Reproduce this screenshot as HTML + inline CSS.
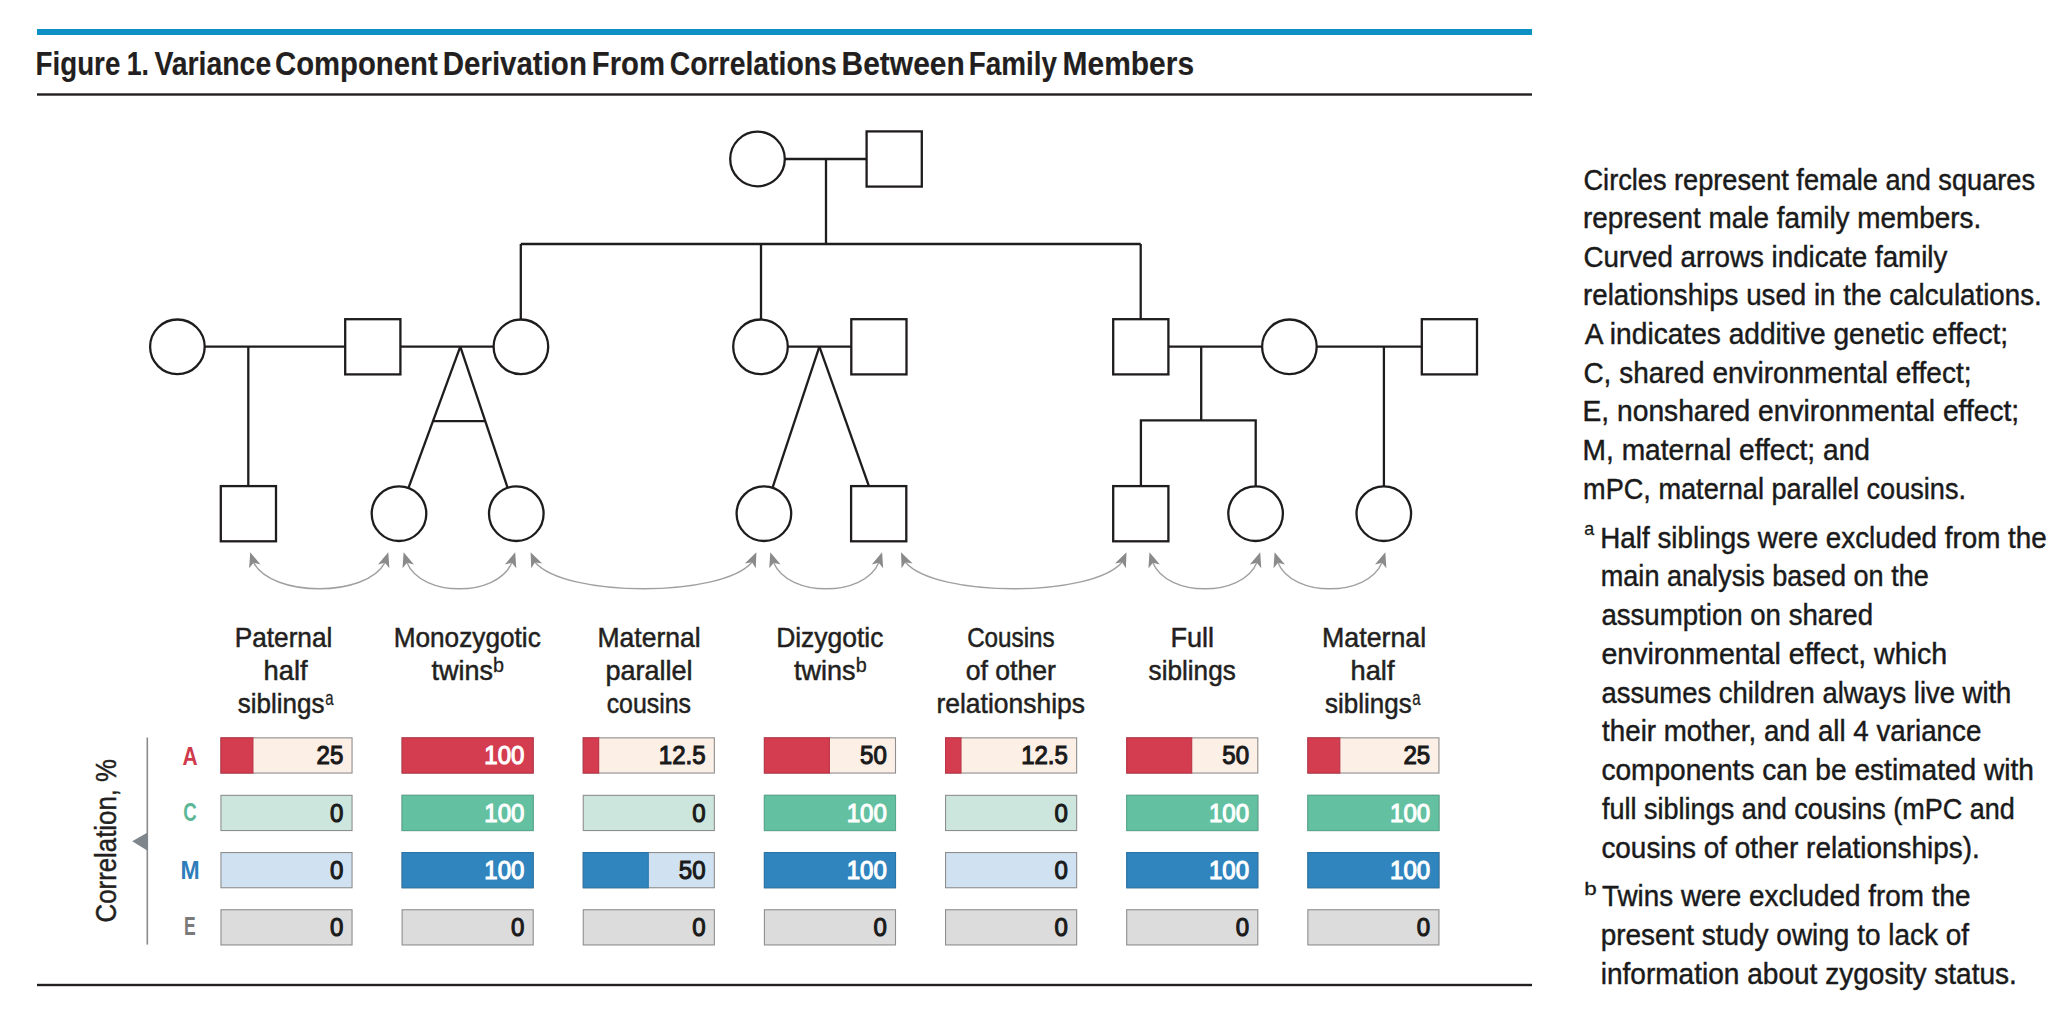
<!DOCTYPE html><html><head><meta charset="utf-8"><style>html,body{margin:0;padding:0;background:#fff;}svg{display:block;}text{font-family:"Liberation Sans",sans-serif;white-space:pre;}</style></head><body>
<svg width="2048" height="1028" viewBox="0 0 2048 1028">
<rect x="37" y="29" width="1495" height="6" fill="#0d90c3"/>
<rect x="37" y="93.3" width="1495" height="2.4" fill="#231f20"/>
<rect x="37" y="983.8" width="1495" height="2.4" fill="#231f20"/>
<text x="35.57" y="74.80" font-size="33.4" font-weight="bold" fill="#231f20" stroke="#231f20" stroke-width="0.15" textLength="84.74" lengthAdjust="spacingAndGlyphs">Figure</text>
<text x="126.67" y="74.80" font-size="33.4" font-weight="bold" fill="#231f20" stroke="#231f20" stroke-width="0.15" textLength="22.30" lengthAdjust="spacingAndGlyphs">1.</text>
<text x="154.43" y="74.80" font-size="33.4" font-weight="bold" fill="#231f20" stroke="#231f20" stroke-width="0.15" textLength="116.77" lengthAdjust="spacingAndGlyphs">Variance</text>
<text x="275.00" y="74.80" font-size="33.4" font-weight="bold" fill="#231f20" stroke="#231f20" stroke-width="0.15" textLength="162.66" lengthAdjust="spacingAndGlyphs">Component</text>
<text x="442.76" y="74.80" font-size="33.4" font-weight="bold" fill="#231f20" stroke="#231f20" stroke-width="0.15" textLength="144.14" lengthAdjust="spacingAndGlyphs">Derivation</text>
<text x="591.77" y="74.80" font-size="33.4" font-weight="bold" fill="#231f20" stroke="#231f20" stroke-width="0.15" textLength="73.21" lengthAdjust="spacingAndGlyphs">From</text>
<text x="669.74" y="74.80" font-size="33.4" font-weight="bold" fill="#231f20" stroke="#231f20" stroke-width="0.15" textLength="167.13" lengthAdjust="spacingAndGlyphs">Correlations</text>
<text x="841.53" y="74.80" font-size="33.4" font-weight="bold" fill="#231f20" stroke="#231f20" stroke-width="0.15" textLength="123.27" lengthAdjust="spacingAndGlyphs">Between</text>
<text x="968.77" y="74.80" font-size="33.4" font-weight="bold" fill="#231f20" stroke="#231f20" stroke-width="0.15" textLength="88.18" lengthAdjust="spacingAndGlyphs">Family</text>
<text x="1062.53" y="74.80" font-size="33.4" font-weight="bold" fill="#231f20" stroke="#231f20" stroke-width="0.15" textLength="131.62" lengthAdjust="spacingAndGlyphs">Members</text>
<g stroke="#1f1c1d" stroke-width="2.3" fill="none" stroke-linecap="butt"><line x1="757.5" y1="159" x2="894.2" y2="159"/><line x1="826" y1="159" x2="826" y2="244"/><line x1="520.8" y1="244" x2="1140.7" y2="244"/><line x1="520.8" y1="244" x2="520.8" y2="346.8"/><line x1="761" y1="244" x2="761" y2="346.8"/><line x1="1140.7" y1="244" x2="1140.7" y2="346.8"/><line x1="177.4" y1="346.6" x2="372.8" y2="346.6"/><line x1="248.3" y1="346.6" x2="248.3" y2="513.7"/><line x1="372.8" y1="346.6" x2="520.9" y2="346.6"/><line x1="460.3" y1="346.6" x2="399" y2="513.7"/><line x1="460.3" y1="346.6" x2="516.3" y2="513.7"/><line x1="433.2" y1="421.1" x2="485.6" y2="421.1"/><line x1="760.5" y1="346.6" x2="878.9" y2="346.6"/><line x1="819.4" y1="346.6" x2="763.9" y2="513.7"/><line x1="819.4" y1="346.6" x2="878.7" y2="513.7"/><line x1="1140.8" y1="346.6" x2="1289.4" y2="346.6"/><line x1="1201.2" y1="346.6" x2="1201.2" y2="420.3"/><path d="M1140.9,513.7V420.3H1255.7V513.7" stroke-linejoin="miter"/><line x1="1289.4" y1="346.6" x2="1449.4" y2="346.6"/><line x1="1383.9" y1="346.6" x2="1383.9" y2="513.7"/></g>
<g stroke="#1f1c1d" stroke-width="2.3" fill="#fff"><circle cx="757.5" cy="159" r="27.3"/><rect x="866.60" y="131.40" width="55.2" height="55.2"/><circle cx="177.4" cy="346.8" r="27.3"/><rect x="345.20" y="319.20" width="55.2" height="55.2"/><circle cx="520.9" cy="346.8" r="27.3"/><circle cx="760.5" cy="346.8" r="27.3"/><rect x="851.30" y="319.20" width="55.2" height="55.2"/><rect x="1113.20" y="319.20" width="55.2" height="55.2"/><circle cx="1289.4" cy="346.8" r="27.3"/><rect x="1421.80" y="319.20" width="55.2" height="55.2"/><rect x="220.80" y="486.10" width="55.2" height="55.2"/><circle cx="399" cy="513.7" r="27.3"/><circle cx="516.3" cy="513.7" r="27.3"/><circle cx="763.9" cy="513.7" r="27.3"/><rect x="851.10" y="486.10" width="55.2" height="55.2"/><rect x="1113.20" y="486.10" width="55.2" height="55.2"/><circle cx="1255.6" cy="513.7" r="27.3"/><circle cx="1383.8" cy="513.7" r="27.3"/></g>
<g fill="none" stroke="#a0a0a0" stroke-width="1.4"><path d="M253.60,562.66C271.98,597.51 366.52,597.51 384.90,562.66"/><path d="M407.00,562.66C421.67,597.51 497.13,597.51 511.80,562.66"/><path d="M535.07,562.25C565.43,597.65 721.57,597.65 751.93,562.25"/><path d="M773.70,562.66C788.40,597.51 864.00,597.51 878.70,562.66"/><path d="M905.47,562.25C935.79,597.65 1091.71,597.65 1122.03,562.25"/><path d="M1152.90,562.66C1167.45,597.51 1242.25,597.51 1256.80,562.66"/><path d="M1278.00,562.66C1292.55,597.51 1367.35,597.51 1381.90,562.66"/></g>
<g fill="#8a8a8a" stroke="none"><path d="M250.20,552.20L249.13,568.32L253.60,562.66L260.54,564.61Z"/><path d="M388.30,552.20L377.96,564.61L384.90,562.66L389.37,568.32Z"/><path d="M403.60,552.20L402.53,568.32L407.00,562.66L413.94,564.61Z"/><path d="M515.20,552.20L504.86,564.61L511.80,562.66L516.27,568.32Z"/><path d="M530.60,552.20L531.22,568.34L535.07,562.25L542.18,563.46Z"/><path d="M756.40,552.20L744.82,563.46L751.93,562.25L755.78,568.34Z"/><path d="M770.30,552.20L769.23,568.32L773.70,562.66L780.64,564.61Z"/><path d="M882.10,552.20L871.76,564.61L878.70,562.66L883.17,568.32Z"/><path d="M901.00,552.20L901.62,568.34L905.47,562.25L912.58,563.46Z"/><path d="M1126.50,552.20L1114.92,563.46L1122.03,562.25L1125.88,568.34Z"/><path d="M1149.50,552.20L1148.43,568.32L1152.90,562.66L1159.84,564.61Z"/><path d="M1260.20,552.20L1249.86,564.61L1256.80,562.66L1261.27,568.32Z"/><path d="M1274.60,552.20L1273.53,568.32L1278.00,562.66L1284.94,564.61Z"/><path d="M1385.30,552.20L1374.96,564.61L1381.90,562.66L1386.37,568.32Z"/></g>
<text x="234.75" y="646.60" font-size="27.6" font-weight="normal" fill="#231f20" stroke="#231f20" stroke-width="0.5" textLength="97.59" lengthAdjust="spacingAndGlyphs">Paternal</text>
<text x="263.53" y="679.70" font-size="27.6" font-weight="normal" fill="#231f20" stroke="#231f20" stroke-width="0.5" textLength="44.14" lengthAdjust="spacingAndGlyphs">half</text>
<text x="237.77" y="712.80" font-size="27.6" font-weight="normal" fill="#231f20" stroke="#231f20" stroke-width="0.5" textLength="86.69" lengthAdjust="spacingAndGlyphs">siblings</text>
<text x="325.15" y="704.90" font-size="21" font-weight="normal" fill="#231f20" stroke="#231f20" stroke-width="0.3" textLength="8.32" lengthAdjust="spacingAndGlyphs">a</text>
<text x="393.65" y="646.60" font-size="27.6" font-weight="normal" fill="#231f20" stroke="#231f20" stroke-width="0.5" textLength="147.12" lengthAdjust="spacingAndGlyphs">Monozygotic</text>
<text x="431.55" y="679.70" font-size="27.6" font-weight="normal" fill="#231f20" stroke="#231f20" stroke-width="0.5" textLength="61.40" lengthAdjust="spacingAndGlyphs">twins</text>
<text x="492.96" y="671.80" font-size="21" font-weight="normal" fill="#231f20" stroke="#231f20" stroke-width="0.3" textLength="11.00" lengthAdjust="spacingAndGlyphs">b</text>
<text x="597.53" y="646.60" font-size="27.6" font-weight="normal" fill="#231f20" stroke="#231f20" stroke-width="0.5" textLength="103.17" lengthAdjust="spacingAndGlyphs">Maternal</text>
<text x="605.39" y="679.70" font-size="27.6" font-weight="normal" fill="#231f20" stroke="#231f20" stroke-width="0.5" textLength="87.13" lengthAdjust="spacingAndGlyphs">parallel</text>
<text x="606.65" y="712.80" font-size="27.6" font-weight="normal" fill="#231f20" stroke="#231f20" stroke-width="0.5" textLength="84.38" lengthAdjust="spacingAndGlyphs">cousins</text>
<text x="776.13" y="646.60" font-size="27.6" font-weight="normal" fill="#231f20" stroke="#231f20" stroke-width="0.5" textLength="107.32" lengthAdjust="spacingAndGlyphs">Dizygotic</text>
<text x="794.04" y="679.70" font-size="27.6" font-weight="normal" fill="#231f20" stroke="#231f20" stroke-width="0.5" textLength="61.61" lengthAdjust="spacingAndGlyphs">twins</text>
<text x="855.66" y="671.80" font-size="21" font-weight="normal" fill="#231f20" stroke="#231f20" stroke-width="0.3" textLength="11.00" lengthAdjust="spacingAndGlyphs">b</text>
<text x="967.14" y="646.60" font-size="27.6" font-weight="normal" fill="#231f20" stroke="#231f20" stroke-width="0.5" textLength="87.51" lengthAdjust="spacingAndGlyphs">Cousins</text>
<text x="965.68" y="679.70" font-size="27.6" font-weight="normal" fill="#231f20" stroke="#231f20" stroke-width="0.5" textLength="90.30" lengthAdjust="spacingAndGlyphs">of other</text>
<text x="936.43" y="712.80" font-size="27.6" font-weight="normal" fill="#231f20" stroke="#231f20" stroke-width="0.5" textLength="148.63" lengthAdjust="spacingAndGlyphs">relationships</text>
<text x="1170.38" y="646.60" font-size="27.6" font-weight="normal" fill="#231f20" stroke="#231f20" stroke-width="0.5" textLength="43.67" lengthAdjust="spacingAndGlyphs">Full</text>
<text x="1148.57" y="679.70" font-size="27.6" font-weight="normal" fill="#231f20" stroke="#231f20" stroke-width="0.5" textLength="87.20" lengthAdjust="spacingAndGlyphs">siblings</text>
<text x="1322.01" y="646.60" font-size="27.6" font-weight="normal" fill="#231f20" stroke="#231f20" stroke-width="0.5" textLength="104.20" lengthAdjust="spacingAndGlyphs">Maternal</text>
<text x="1350.44" y="679.70" font-size="27.6" font-weight="normal" fill="#231f20" stroke="#231f20" stroke-width="0.5" textLength="44.04" lengthAdjust="spacingAndGlyphs">half</text>
<text x="1325.07" y="712.80" font-size="27.6" font-weight="normal" fill="#231f20" stroke="#231f20" stroke-width="0.5" textLength="86.59" lengthAdjust="spacingAndGlyphs">siblings</text>
<text x="1412.35" y="704.90" font-size="21" font-weight="normal" fill="#231f20" stroke="#231f20" stroke-width="0.3" textLength="8.32" lengthAdjust="spacingAndGlyphs">a</text>
<rect x="220.95" y="737.85" width="131.10" height="35.20" fill="#fcefe6" stroke="#8e8e8e" stroke-width="1.1"/>
<rect x="220.95" y="737.85" width="31.95" height="35.20" fill="#d43d50" stroke="#d43d50" stroke-width="1.1"/>
<rect x="220.95" y="737.85" width="31.95" height="35.20" fill="none" stroke="#000" stroke-opacity="0.12" stroke-width="1.1"/>
<text x="343.30" y="764.40" font-size="26.7" font-weight="normal" fill="#1a1a1a" stroke="#1a1a1a" stroke-width="1.15" text-anchor="end" transform="translate(343.30,0) scale(0.9,1) translate(-343.30,0)">25</text>
<rect x="402.10" y="737.85" width="131.10" height="35.20" fill="#fcefe6" stroke="#8e8e8e" stroke-width="1.1"/>
<rect x="402.10" y="737.85" width="131.10" height="35.20" fill="#d43d50" stroke="#d43d50" stroke-width="1.1"/>
<rect x="402.10" y="737.85" width="131.10" height="35.20" fill="none" stroke="#000" stroke-opacity="0.12" stroke-width="1.1"/>
<text x="524.45" y="764.40" font-size="26.7" font-weight="normal" fill="#ffffff" stroke="#ffffff" stroke-width="1.15" text-anchor="end" transform="translate(524.45,0) scale(0.9,1) translate(-524.45,0)">100</text>
<rect x="583.25" y="737.85" width="131.10" height="35.20" fill="#fcefe6" stroke="#8e8e8e" stroke-width="1.1"/>
<rect x="583.25" y="737.85" width="15.42" height="35.20" fill="#d43d50" stroke="#d43d50" stroke-width="1.1"/>
<rect x="583.25" y="737.85" width="15.42" height="35.20" fill="none" stroke="#000" stroke-opacity="0.12" stroke-width="1.1"/>
<text x="705.60" y="764.40" font-size="26.7" font-weight="normal" fill="#1a1a1a" stroke="#1a1a1a" stroke-width="1.15" text-anchor="end" transform="translate(705.60,0) scale(0.9,1) translate(-705.60,0)">12.5</text>
<rect x="764.40" y="737.85" width="131.10" height="35.20" fill="#fcefe6" stroke="#8e8e8e" stroke-width="1.1"/>
<rect x="764.40" y="737.85" width="65.00" height="35.20" fill="#d43d50" stroke="#d43d50" stroke-width="1.1"/>
<rect x="764.40" y="737.85" width="65.00" height="35.20" fill="none" stroke="#000" stroke-opacity="0.12" stroke-width="1.1"/>
<text x="886.75" y="764.40" font-size="26.7" font-weight="normal" fill="#1a1a1a" stroke="#1a1a1a" stroke-width="1.15" text-anchor="end" transform="translate(886.75,0) scale(0.9,1) translate(-886.75,0)">50</text>
<rect x="945.55" y="737.85" width="131.10" height="35.20" fill="#fcefe6" stroke="#8e8e8e" stroke-width="1.1"/>
<rect x="945.55" y="737.85" width="15.42" height="35.20" fill="#d43d50" stroke="#d43d50" stroke-width="1.1"/>
<rect x="945.55" y="737.85" width="15.42" height="35.20" fill="none" stroke="#000" stroke-opacity="0.12" stroke-width="1.1"/>
<text x="1067.90" y="764.40" font-size="26.7" font-weight="normal" fill="#1a1a1a" stroke="#1a1a1a" stroke-width="1.15" text-anchor="end" transform="translate(1067.90,0) scale(0.9,1) translate(-1067.90,0)">12.5</text>
<rect x="1126.70" y="737.85" width="131.10" height="35.20" fill="#fcefe6" stroke="#8e8e8e" stroke-width="1.1"/>
<rect x="1126.70" y="737.85" width="65.00" height="35.20" fill="#d43d50" stroke="#d43d50" stroke-width="1.1"/>
<rect x="1126.70" y="737.85" width="65.00" height="35.20" fill="none" stroke="#000" stroke-opacity="0.12" stroke-width="1.1"/>
<text x="1249.05" y="764.40" font-size="26.7" font-weight="normal" fill="#1a1a1a" stroke="#1a1a1a" stroke-width="1.15" text-anchor="end" transform="translate(1249.05,0) scale(0.9,1) translate(-1249.05,0)">50</text>
<rect x="1307.85" y="737.85" width="131.10" height="35.20" fill="#fcefe6" stroke="#8e8e8e" stroke-width="1.1"/>
<rect x="1307.85" y="737.85" width="31.95" height="35.20" fill="#d43d50" stroke="#d43d50" stroke-width="1.1"/>
<rect x="1307.85" y="737.85" width="31.95" height="35.20" fill="none" stroke="#000" stroke-opacity="0.12" stroke-width="1.1"/>
<text x="1430.20" y="764.40" font-size="26.7" font-weight="normal" fill="#1a1a1a" stroke="#1a1a1a" stroke-width="1.15" text-anchor="end" transform="translate(1430.20,0) scale(0.9,1) translate(-1430.20,0)">25</text>
<text x="182.58" y="765.00" font-size="26.4" font-weight="bold" fill="#cf3a4c" textLength="15.09" lengthAdjust="spacingAndGlyphs">A</text>
<rect x="220.95" y="795.35" width="131.10" height="35.20" fill="#cde6dd" stroke="#8e8e8e" stroke-width="1.1"/>
<text x="343.30" y="821.90" font-size="26.7" font-weight="normal" fill="#1a1a1a" stroke="#1a1a1a" stroke-width="1.15" text-anchor="end" transform="translate(343.30,0) scale(0.9,1) translate(-343.30,0)">0</text>
<rect x="402.10" y="795.35" width="131.10" height="35.20" fill="#cde6dd" stroke="#8e8e8e" stroke-width="1.1"/>
<rect x="402.10" y="795.35" width="131.10" height="35.20" fill="#63c1a2" stroke="#63c1a2" stroke-width="1.1"/>
<rect x="402.10" y="795.35" width="131.10" height="35.20" fill="none" stroke="#000" stroke-opacity="0.12" stroke-width="1.1"/>
<text x="524.45" y="821.90" font-size="26.7" font-weight="normal" fill="#ffffff" stroke="#ffffff" stroke-width="1.15" text-anchor="end" transform="translate(524.45,0) scale(0.9,1) translate(-524.45,0)">100</text>
<rect x="583.25" y="795.35" width="131.10" height="35.20" fill="#cde6dd" stroke="#8e8e8e" stroke-width="1.1"/>
<text x="705.60" y="821.90" font-size="26.7" font-weight="normal" fill="#1a1a1a" stroke="#1a1a1a" stroke-width="1.15" text-anchor="end" transform="translate(705.60,0) scale(0.9,1) translate(-705.60,0)">0</text>
<rect x="764.40" y="795.35" width="131.10" height="35.20" fill="#cde6dd" stroke="#8e8e8e" stroke-width="1.1"/>
<rect x="764.40" y="795.35" width="131.10" height="35.20" fill="#63c1a2" stroke="#63c1a2" stroke-width="1.1"/>
<rect x="764.40" y="795.35" width="131.10" height="35.20" fill="none" stroke="#000" stroke-opacity="0.12" stroke-width="1.1"/>
<text x="886.75" y="821.90" font-size="26.7" font-weight="normal" fill="#ffffff" stroke="#ffffff" stroke-width="1.15" text-anchor="end" transform="translate(886.75,0) scale(0.9,1) translate(-886.75,0)">100</text>
<rect x="945.55" y="795.35" width="131.10" height="35.20" fill="#cde6dd" stroke="#8e8e8e" stroke-width="1.1"/>
<text x="1067.90" y="821.90" font-size="26.7" font-weight="normal" fill="#1a1a1a" stroke="#1a1a1a" stroke-width="1.15" text-anchor="end" transform="translate(1067.90,0) scale(0.9,1) translate(-1067.90,0)">0</text>
<rect x="1126.70" y="795.35" width="131.10" height="35.20" fill="#cde6dd" stroke="#8e8e8e" stroke-width="1.1"/>
<rect x="1126.70" y="795.35" width="131.10" height="35.20" fill="#63c1a2" stroke="#63c1a2" stroke-width="1.1"/>
<rect x="1126.70" y="795.35" width="131.10" height="35.20" fill="none" stroke="#000" stroke-opacity="0.12" stroke-width="1.1"/>
<text x="1249.05" y="821.90" font-size="26.7" font-weight="normal" fill="#ffffff" stroke="#ffffff" stroke-width="1.15" text-anchor="end" transform="translate(1249.05,0) scale(0.9,1) translate(-1249.05,0)">100</text>
<rect x="1307.85" y="795.35" width="131.10" height="35.20" fill="#cde6dd" stroke="#8e8e8e" stroke-width="1.1"/>
<rect x="1307.85" y="795.35" width="131.10" height="35.20" fill="#63c1a2" stroke="#63c1a2" stroke-width="1.1"/>
<rect x="1307.85" y="795.35" width="131.10" height="35.20" fill="none" stroke="#000" stroke-opacity="0.12" stroke-width="1.1"/>
<text x="1430.20" y="821.90" font-size="26.7" font-weight="normal" fill="#ffffff" stroke="#ffffff" stroke-width="1.15" text-anchor="end" transform="translate(1430.20,0) scale(0.9,1) translate(-1430.20,0)">100</text>
<text x="183.35" y="821.10" font-size="26.4" font-weight="bold" fill="#5cb797" textLength="13.45" lengthAdjust="spacingAndGlyphs">C</text>
<rect x="220.95" y="852.55" width="131.10" height="35.20" fill="#d0e2f2" stroke="#8e8e8e" stroke-width="1.1"/>
<text x="343.30" y="879.10" font-size="26.7" font-weight="normal" fill="#1a1a1a" stroke="#1a1a1a" stroke-width="1.15" text-anchor="end" transform="translate(343.30,0) scale(0.9,1) translate(-343.30,0)">0</text>
<rect x="402.10" y="852.55" width="131.10" height="35.20" fill="#d0e2f2" stroke="#8e8e8e" stroke-width="1.1"/>
<rect x="402.10" y="852.55" width="131.10" height="35.20" fill="#3185bf" stroke="#3185bf" stroke-width="1.1"/>
<rect x="402.10" y="852.55" width="131.10" height="35.20" fill="none" stroke="#000" stroke-opacity="0.12" stroke-width="1.1"/>
<text x="524.45" y="879.10" font-size="26.7" font-weight="normal" fill="#ffffff" stroke="#ffffff" stroke-width="1.15" text-anchor="end" transform="translate(524.45,0) scale(0.9,1) translate(-524.45,0)">100</text>
<rect x="583.25" y="852.55" width="131.10" height="35.20" fill="#d0e2f2" stroke="#8e8e8e" stroke-width="1.1"/>
<rect x="583.25" y="852.55" width="65.00" height="35.20" fill="#3185bf" stroke="#3185bf" stroke-width="1.1"/>
<rect x="583.25" y="852.55" width="65.00" height="35.20" fill="none" stroke="#000" stroke-opacity="0.12" stroke-width="1.1"/>
<text x="705.60" y="879.10" font-size="26.7" font-weight="normal" fill="#1a1a1a" stroke="#1a1a1a" stroke-width="1.15" text-anchor="end" transform="translate(705.60,0) scale(0.9,1) translate(-705.60,0)">50</text>
<rect x="764.40" y="852.55" width="131.10" height="35.20" fill="#d0e2f2" stroke="#8e8e8e" stroke-width="1.1"/>
<rect x="764.40" y="852.55" width="131.10" height="35.20" fill="#3185bf" stroke="#3185bf" stroke-width="1.1"/>
<rect x="764.40" y="852.55" width="131.10" height="35.20" fill="none" stroke="#000" stroke-opacity="0.12" stroke-width="1.1"/>
<text x="886.75" y="879.10" font-size="26.7" font-weight="normal" fill="#ffffff" stroke="#ffffff" stroke-width="1.15" text-anchor="end" transform="translate(886.75,0) scale(0.9,1) translate(-886.75,0)">100</text>
<rect x="945.55" y="852.55" width="131.10" height="35.20" fill="#d0e2f2" stroke="#8e8e8e" stroke-width="1.1"/>
<text x="1067.90" y="879.10" font-size="26.7" font-weight="normal" fill="#1a1a1a" stroke="#1a1a1a" stroke-width="1.15" text-anchor="end" transform="translate(1067.90,0) scale(0.9,1) translate(-1067.90,0)">0</text>
<rect x="1126.70" y="852.55" width="131.10" height="35.20" fill="#d0e2f2" stroke="#8e8e8e" stroke-width="1.1"/>
<rect x="1126.70" y="852.55" width="131.10" height="35.20" fill="#3185bf" stroke="#3185bf" stroke-width="1.1"/>
<rect x="1126.70" y="852.55" width="131.10" height="35.20" fill="none" stroke="#000" stroke-opacity="0.12" stroke-width="1.1"/>
<text x="1249.05" y="879.10" font-size="26.7" font-weight="normal" fill="#ffffff" stroke="#ffffff" stroke-width="1.15" text-anchor="end" transform="translate(1249.05,0) scale(0.9,1) translate(-1249.05,0)">100</text>
<rect x="1307.85" y="852.55" width="131.10" height="35.20" fill="#d0e2f2" stroke="#8e8e8e" stroke-width="1.1"/>
<rect x="1307.85" y="852.55" width="131.10" height="35.20" fill="#3185bf" stroke="#3185bf" stroke-width="1.1"/>
<rect x="1307.85" y="852.55" width="131.10" height="35.20" fill="none" stroke="#000" stroke-opacity="0.12" stroke-width="1.1"/>
<text x="1430.20" y="879.10" font-size="26.7" font-weight="normal" fill="#ffffff" stroke="#ffffff" stroke-width="1.15" text-anchor="end" transform="translate(1430.20,0) scale(0.9,1) translate(-1430.20,0)">100</text>
<text x="180.50" y="879.20" font-size="26.4" font-weight="bold" fill="#2e7dbb" textLength="19.16" lengthAdjust="spacingAndGlyphs">M</text>
<rect x="220.95" y="909.75" width="131.10" height="35.20" fill="#dcdcdd" stroke="#8e8e8e" stroke-width="1.1"/>
<text x="343.30" y="936.30" font-size="26.7" font-weight="normal" fill="#1a1a1a" stroke="#1a1a1a" stroke-width="1.15" text-anchor="end" transform="translate(343.30,0) scale(0.9,1) translate(-343.30,0)">0</text>
<rect x="402.10" y="909.75" width="131.10" height="35.20" fill="#dcdcdd" stroke="#8e8e8e" stroke-width="1.1"/>
<text x="524.45" y="936.30" font-size="26.7" font-weight="normal" fill="#1a1a1a" stroke="#1a1a1a" stroke-width="1.15" text-anchor="end" transform="translate(524.45,0) scale(0.9,1) translate(-524.45,0)">0</text>
<rect x="583.25" y="909.75" width="131.10" height="35.20" fill="#dcdcdd" stroke="#8e8e8e" stroke-width="1.1"/>
<text x="705.60" y="936.30" font-size="26.7" font-weight="normal" fill="#1a1a1a" stroke="#1a1a1a" stroke-width="1.15" text-anchor="end" transform="translate(705.60,0) scale(0.9,1) translate(-705.60,0)">0</text>
<rect x="764.40" y="909.75" width="131.10" height="35.20" fill="#dcdcdd" stroke="#8e8e8e" stroke-width="1.1"/>
<text x="886.75" y="936.30" font-size="26.7" font-weight="normal" fill="#1a1a1a" stroke="#1a1a1a" stroke-width="1.15" text-anchor="end" transform="translate(886.75,0) scale(0.9,1) translate(-886.75,0)">0</text>
<rect x="945.55" y="909.75" width="131.10" height="35.20" fill="#dcdcdd" stroke="#8e8e8e" stroke-width="1.1"/>
<text x="1067.90" y="936.30" font-size="26.7" font-weight="normal" fill="#1a1a1a" stroke="#1a1a1a" stroke-width="1.15" text-anchor="end" transform="translate(1067.90,0) scale(0.9,1) translate(-1067.90,0)">0</text>
<rect x="1126.70" y="909.75" width="131.10" height="35.20" fill="#dcdcdd" stroke="#8e8e8e" stroke-width="1.1"/>
<text x="1249.05" y="936.30" font-size="26.7" font-weight="normal" fill="#1a1a1a" stroke="#1a1a1a" stroke-width="1.15" text-anchor="end" transform="translate(1249.05,0) scale(0.9,1) translate(-1249.05,0)">0</text>
<rect x="1307.85" y="909.75" width="131.10" height="35.20" fill="#dcdcdd" stroke="#8e8e8e" stroke-width="1.1"/>
<text x="1430.20" y="936.30" font-size="26.7" font-weight="normal" fill="#1a1a1a" stroke="#1a1a1a" stroke-width="1.15" text-anchor="end" transform="translate(1430.20,0) scale(0.9,1) translate(-1430.20,0)">0</text>
<text x="183.96" y="935.40" font-size="26.4" font-weight="bold" fill="#7a7a7a" textLength="11.69" lengthAdjust="spacingAndGlyphs">E</text>
<line x1="147.3" y1="737.5" x2="147.3" y2="944.6" stroke="#8a8a8a" stroke-width="1.6"/>
<path d="M132.2,841.2L148,832.2L148,851Z" fill="#7f868c"/>
<text x="0" y="0" font-size="30" fill="#231f20" stroke="#231f20" stroke-width="0.45" text-anchor="middle" transform="translate(116.3,840.7) rotate(-90) scale(0.86,1)">Correlation, %</text>
<text x="1583.47" y="189.50" font-size="29.4" font-weight="normal" fill="#1a1a1a" stroke="#1a1a1a" stroke-width="0.45" textLength="451.55" lengthAdjust="spacingAndGlyphs">Circles represent female and squares</text>
<text x="1583.01" y="228.14" font-size="29.4" font-weight="normal" fill="#1a1a1a" stroke="#1a1a1a" stroke-width="0.45" textLength="398.25" lengthAdjust="spacingAndGlyphs">represent male family members.</text>
<text x="1583.44" y="266.78" font-size="29.4" font-weight="normal" fill="#1a1a1a" stroke="#1a1a1a" stroke-width="0.45" textLength="363.97" lengthAdjust="spacingAndGlyphs">Curved arrows indicate family</text>
<text x="1583.03" y="305.42" font-size="29.4" font-weight="normal" fill="#1a1a1a" stroke="#1a1a1a" stroke-width="0.45" textLength="458.66" lengthAdjust="spacingAndGlyphs">relationships used in the calculations.</text>
<text x="1584.82" y="344.06" font-size="29.4" font-weight="normal" fill="#1a1a1a" stroke="#1a1a1a" stroke-width="0.45" textLength="423.30" lengthAdjust="spacingAndGlyphs">A indicates additive genetic effect;</text>
<text x="1583.43" y="382.70" font-size="29.4" font-weight="normal" fill="#1a1a1a" stroke="#1a1a1a" stroke-width="0.45" textLength="388.01" lengthAdjust="spacingAndGlyphs">C, shared environmental effect;</text>
<text x="1582.57" y="421.34" font-size="29.4" font-weight="normal" fill="#1a1a1a" stroke="#1a1a1a" stroke-width="0.45" textLength="436.64" lengthAdjust="spacingAndGlyphs">E, nonshared environmental effect;</text>
<text x="1582.57" y="459.98" font-size="29.4" font-weight="normal" fill="#1a1a1a" stroke="#1a1a1a" stroke-width="0.45" textLength="287.41" lengthAdjust="spacingAndGlyphs">M, maternal effect; and</text>
<text x="1583.06" y="498.62" font-size="29.4" font-weight="normal" fill="#1a1a1a" stroke="#1a1a1a" stroke-width="0.45" textLength="383.01" lengthAdjust="spacingAndGlyphs">mPC, maternal parallel cousins.</text>
<text x="1600.30" y="547.60" font-size="29.4" font-weight="normal" fill="#1a1a1a" stroke="#1a1a1a" stroke-width="0.45" textLength="446.42" lengthAdjust="spacingAndGlyphs">Half siblings were excluded from the</text>
<text x="1600.77" y="586.35" font-size="29.4" font-weight="normal" fill="#1a1a1a" stroke="#1a1a1a" stroke-width="0.45" textLength="328.00" lengthAdjust="spacingAndGlyphs">main analysis based on the</text>
<text x="1601.42" y="625.10" font-size="29.4" font-weight="normal" fill="#1a1a1a" stroke="#1a1a1a" stroke-width="0.45" textLength="271.64" lengthAdjust="spacingAndGlyphs">assumption on shared</text>
<text x="1601.38" y="663.85" font-size="29.4" font-weight="normal" fill="#1a1a1a" stroke="#1a1a1a" stroke-width="0.45" textLength="345.73" lengthAdjust="spacingAndGlyphs">environmental effect, which</text>
<text x="1601.43" y="702.60" font-size="29.4" font-weight="normal" fill="#1a1a1a" stroke="#1a1a1a" stroke-width="0.45" textLength="409.94" lengthAdjust="spacingAndGlyphs">assumes children always live with</text>
<text x="1602.11" y="741.35" font-size="29.4" font-weight="normal" fill="#1a1a1a" stroke="#1a1a1a" stroke-width="0.45" textLength="379.21" lengthAdjust="spacingAndGlyphs">their mother, and all 4 variance</text>
<text x="1601.40" y="780.10" font-size="29.4" font-weight="normal" fill="#1a1a1a" stroke="#1a1a1a" stroke-width="0.45" textLength="432.58" lengthAdjust="spacingAndGlyphs">components can be estimated with</text>
<text x="1602.12" y="818.85" font-size="29.4" font-weight="normal" fill="#1a1a1a" stroke="#1a1a1a" stroke-width="0.45" textLength="412.62" lengthAdjust="spacingAndGlyphs">full siblings and cousins (mPC and</text>
<text x="1601.41" y="857.60" font-size="29.4" font-weight="normal" fill="#1a1a1a" stroke="#1a1a1a" stroke-width="0.45" textLength="378.36" lengthAdjust="spacingAndGlyphs">cousins of other relationships).</text>
<text x="1601.97" y="906.30" font-size="29.4" font-weight="normal" fill="#1a1a1a" stroke="#1a1a1a" stroke-width="0.45" textLength="368.45" lengthAdjust="spacingAndGlyphs">Twins were excluded from the</text>
<text x="1600.71" y="945.05" font-size="29.4" font-weight="normal" fill="#1a1a1a" stroke="#1a1a1a" stroke-width="0.45" textLength="368.34" lengthAdjust="spacingAndGlyphs">present study owing to lack of</text>
<text x="1600.70" y="983.80" font-size="29.4" font-weight="normal" fill="#1a1a1a" stroke="#1a1a1a" stroke-width="0.45" textLength="416.23" lengthAdjust="spacingAndGlyphs">information about zygosity status.</text>
<text x="1584.24" y="535.40" font-size="18.5" font-weight="normal" fill="#1a1a1a" stroke="#1a1a1a" stroke-width="0.3" textLength="9.94" lengthAdjust="spacingAndGlyphs">a</text>
<text x="1584.29" y="895.40" font-size="19" font-weight="normal" fill="#1a1a1a" stroke="#1a1a1a" stroke-width="0.3" textLength="12.48" lengthAdjust="spacingAndGlyphs">b</text>
</svg></body></html>
